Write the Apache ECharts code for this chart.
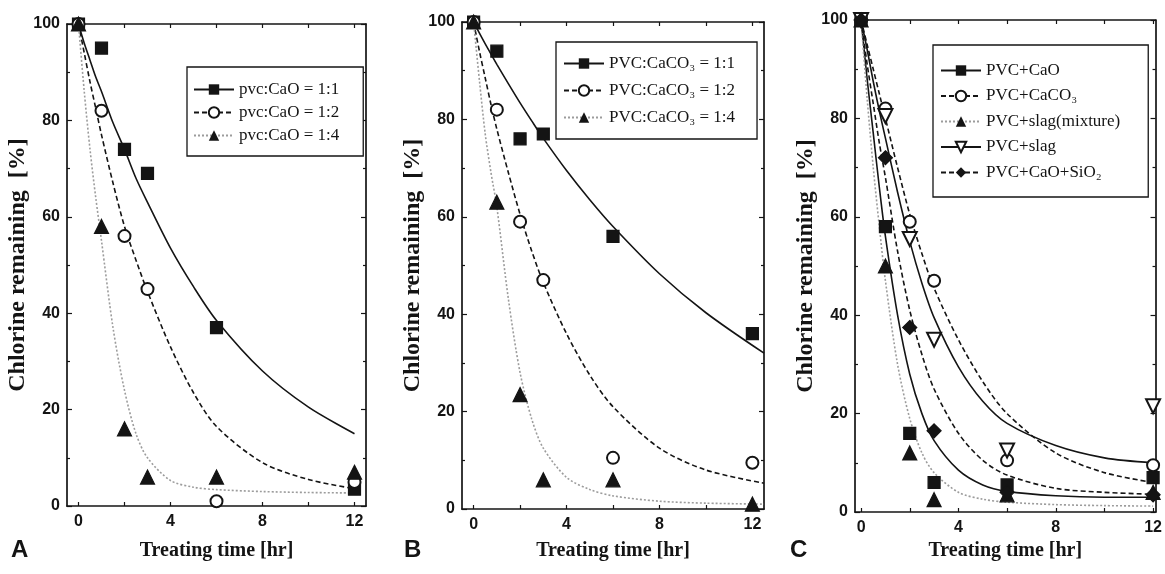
<!DOCTYPE html>
<html>
<head>
<meta charset="utf-8">
<title>Chlorine remaining vs treating time</title>
<script src="https://cdn.jsdelivr.net/npm/echarts@6/dist/echarts.min.js"></script>
<style>
  html, body { margin: 0; padding: 0; background: #fff; }
  #chart { width: 1165px; height: 574px; }
</style>
</head>
<body>
<div id="chart"></div>
<script>
// measured points, treating time [hr]
const hours = [0, 1, 2, 3, 6, 12];

// A: pvc:CaO
const aRatio11 = [100, 95, 74, 69, 37, 3.5];
const aRatio12 = [100, 82, 56, 45, 1, 5];
const aRatio14 = [100, 58, 16, 6, 6, 7];

// B: PVC:CaCO3
const bRatio11 = [100, 94, 76, 77, 56, 36];
const bRatio12 = [100, 82, 59, 47, 10.5, 9.5];
const bRatio14 = [100, 63, 23.5, 6, 6, 1];

// C: additives
const cCaO = [100, 58, 16, 6, 5.5, 7];
const cCaCO3 = [100, 82, 59, 47, 10.5, 9.5];
const cSlagMix = [100, 50, 12, 2.5, 3.5, 4];
const cSlag = [100, 80.5, 55.5, 35, 12.5, 21.5];
const cCaOSiO2 = [100, 72, 37.5, 16.5, 4, 3.5];

// fitted curves
const fitHours = [0, 0.25, 0.5, 0.75, 1, 1.5, 2, 2.5, 3, 4, 5, 6, 8, 10, 12];
const fitHoursB = [0, 0.25, 0.5, 0.75, 1, 1.5, 2, 2.5, 3, 4, 5, 6, 8, 10, 12.5];

const aFit11 = [100, 96, 92.5, 89, 86, 79.5, 74, 68, 63, 53.5, 45.5, 38.5, 28, 20.5, 15];
const aFit12 = [100, 94, 88, 82.5, 77, 67, 58, 51, 44.5, 33, 23.5, 16.5, 9, 5.5, 3.6];
const aFit14 = [100, 86, 74, 64, 55, 37, 24, 15, 10, 5.3, 3.9, 3.4, 3, 2.8, 2.7];

const bFit11 = [100, 97.7, 95.5, 93.4, 91.3, 87.3, 83.4, 79.7, 76.1, 69.5, 63.5, 58, 48.3, 40.3, 32];
const bFit12 = [100, 94, 88.5, 83, 78, 69, 60.5, 53, 46.5, 36, 27.5, 21, 12.5, 8, 5.3];
const bFit14 = [100, 88, 77, 69, 62, 43, 28, 18.5, 12.5, 6.5, 4, 2.7, 1.6, 1.2, 1];

const cFitCaO = [100, 88, 77, 66, 56, 40, 28, 20, 14.5, 8.5, 5.5, 4.2, 3.3, 3, 3];
const cFitCaCO3 = [100, 95, 90, 85, 80, 70, 60.5, 52.5, 45.5, 35, 26.5, 20, 12, 8, 6];
const cFitSlagMix = [100, 84, 70, 58, 47, 30, 19, 12, 8, 4, 2.6, 2, 1.5, 1.3, 1.2];
const cFitSlag = [100, 94, 87.5, 81.5, 76, 65, 55, 46.5, 39.5, 29.5, 22.5, 18, 13.5, 11, 10];
const cFitCaOSiO2 = [100, 91, 83, 75, 68, 53, 41, 32, 25, 16, 10.5, 7.5, 4.8, 4, 3.6];

const xTicks = [0, 2, 4, 6, 8, 10, 12];
const xLabels = [0, 4, 8, 12];

const ink = '#141414';
const grey = '#9c9c9c';
const serif = '"Liberation Serif", "Times New Roman", serif';
const sans = '"Liberation Sans", Arial, sans-serif';

const grids = [
  { left: 67, top: 24, width: 299, height: 482 },
  { left: 462, top: 22, width: 302, height: 487 },
  { left: 855, top: 20, width: 303, height: 492 }
];
const xRange = [[-0.5, 12.5], [-0.5, 12.5], [-0.25, 12.1]];
const yNameGap = [15, 32, 35];
const xNameGap = [35, 32, 29];

const solid = { color: ink, width: 1.6, type: 'solid' };
const dashed = { color: ink, width: 1.6, type: [5, 3] };
const dotted = { color: grey, width: 1.6, type: [2, 2] };

function zip(xs, ys) {
  return xs.map((x, i) => [x, ys[i]]);
}

const xAxes = [];
const yAxes = [];
grids.forEach((g, i) => {
  ['bottom', 'top'].forEach(pos => {
    xAxes.push({
      type: 'value', gridIndex: i, position: pos,
      min: xRange[i][0], max: xRange[i][1],
      axisLine: { show: true, onZero: false, lineStyle: { color: ink, width: 1.7 } },
      axisTick: { show: true, inside: true, length: 4, customValues: xTicks, lineStyle: { color: ink, width: 1.2 } },
      axisLabel: {
        show: pos === 'bottom', customValues: xLabels, margin: 8,
        fontFamily: sans, fontWeight: 'bold', fontSize: 16, color: ink
      },
      splitLine: { show: false },
      name: pos === 'bottom' ? 'Treating time [hr]' : '',
      nameLocation: 'middle', nameGap: xNameGap[i],
      nameTextStyle: { fontFamily: serif, fontWeight: 'bold', fontSize: 20, color: ink }
    });
  });
  ['left', 'right'].forEach(pos => {
    yAxes.push({
      type: 'value', gridIndex: i, position: pos,
      min: 0, max: 100, interval: 20,
      axisLine: { show: true, onZero: false, lineStyle: { color: ink, width: 1.7 } },
      axisTick: { show: true, inside: true, length: 5, lineStyle: { color: ink, width: 1.2 } },
      minorTick: { show: true, splitNumber: 2, length: 3, lineStyle: { color: ink, width: 1.2 } },
      axisLabel: {
        show: pos === 'left', margin: 7,
        fontFamily: sans, fontWeight: 'bold', fontSize: 16, color: ink
      },
      splitLine: { show: false },
      name: pos === 'left' ? 'Chlorine remaining  [%]' : '',
      nameLocation: 'middle', nameGap: yNameGap[i],
      nameTextStyle: { fontFamily: serif, fontWeight: 'bold', fontSize: 24, color: ink }
    });
  });
});

const series = [];
function addSet(panel, name, pts, fitX, fitY, line, symbol, size, rotate) {
  // curve goes first so the legend icon shows line + symbol
  series.push({
    name, type: 'line', xAxisIndex: panel * 2, yAxisIndex: panel * 2,
    data: zip(fitX, fitY), smooth: 0.3,
    showSymbol: false, symbol, symbolRotate: rotate || 0,
    itemStyle: { color: ink, borderColor: ink },
    lineStyle: line, z: 2
  });
  series.push({
    name, type: 'scatter', xAxisIndex: panel * 2, yAxisIndex: panel * 2,
    data: zip(hours, pts), symbol, symbolRotate: rotate || 0, symbolSize: size,
    itemStyle: { color: ink, borderColor: ink, borderWidth: 1.2, opacity: 1 }, z: 3
  });
}

addSet(0, 'pvc:CaO = 1:1', aRatio11, fitHours, aFit11, solid, 'rect', 12);
addSet(0, 'pvc:CaO = 1:2', aRatio12, fitHours, aFit12, dashed, 'emptyCircle', 12);
addSet(0, 'pvc:CaO = 1:4', aRatio14, fitHours, aFit14, dotted, 'triangle', 14);

addSet(1, 'PVC:CaCO\u2083 = 1:1', bRatio11, fitHoursB, bFit11, solid, 'rect', 12);
addSet(1, 'PVC:CaCO\u2083 = 1:2', bRatio12, fitHoursB, bFit12, dashed, 'emptyCircle', 12);
addSet(1, 'PVC:CaCO\u2083 = 1:4', bRatio14, fitHoursB, bFit14, dotted, 'triangle', 14);

addSet(2, 'PVC+CaO', cCaO, fitHours, cFitCaO, solid, 'rect', 12);
addSet(2, 'PVC+CaCO\u2083', cCaCO3, fitHours, cFitCaCO3, dashed, 'emptyCircle', 12);
addSet(2, 'PVC+slag(mixture)', cSlagMix, fitHours, cFitSlagMix, dotted, 'triangle', 14);
addSet(2, 'PVC+slag', cSlag, fitHours, cFitSlag, solid, 'emptyTriangle', 14, 180);
addSet(2, 'PVC+CaO+SiO\u2082', cCaOSiO2, fitHours, cFitCaOSiO2, dashed, 'diamond', 14);

const legendBase = {
  orient: 'vertical', selectedMode: false,
  itemWidth: 40, itemHeight: 13,
  backgroundColor: '#fff', borderColor: ink, borderWidth: 1.3,
  textStyle: { fontFamily: serif, fontSize: 17, color: ink }
};

const letterStyle = { fontFamily: sans, fontWeight: 'bold', fontSize: 24, color: ink };

const chart = echarts.init(document.getElementById('chart'), null, { renderer: 'canvas' });
chart.setOption({
  animation: false,
  backgroundColor: '#fff',
  title: [
    { text: 'A', left: 6, top: 533, textStyle: letterStyle },
    { text: 'B', left: 399, top: 533, textStyle: letterStyle },
    { text: 'C', left: 785, top: 533, textStyle: letterStyle }
  ],
  grid: grids,
  xAxis: xAxes,
  yAxis: yAxes,
  legend: [
    Object.assign({}, legendBase, {
      left: 187, top: 67, padding: [14, 24, 12, 6], itemGap: 6,
      data: ['pvc:CaO = 1:1', 'pvc:CaO = 1:2', 'pvc:CaO = 1:4']
    }),
    Object.assign({}, legendBase, {
      left: 556, top: 42, padding: [13, 22, 13, 7], itemGap: 10,
      data: ['PVC:CaCO\u2083 = 1:1', 'PVC:CaCO\u2083 = 1:2', 'PVC:CaCO\u2083 = 1:4']
    }),
    Object.assign({}, legendBase, {
      left: 933, top: 45, padding: [17, 28, 16, 7], itemGap: 8.5,
      data: ['PVC+CaO', 'PVC+CaCO\u2083', 'PVC+slag(mixture)', 'PVC+slag', 'PVC+CaO+SiO\u2082']
    })
  ],
  series: series
});
</script>
</body>
</html>
